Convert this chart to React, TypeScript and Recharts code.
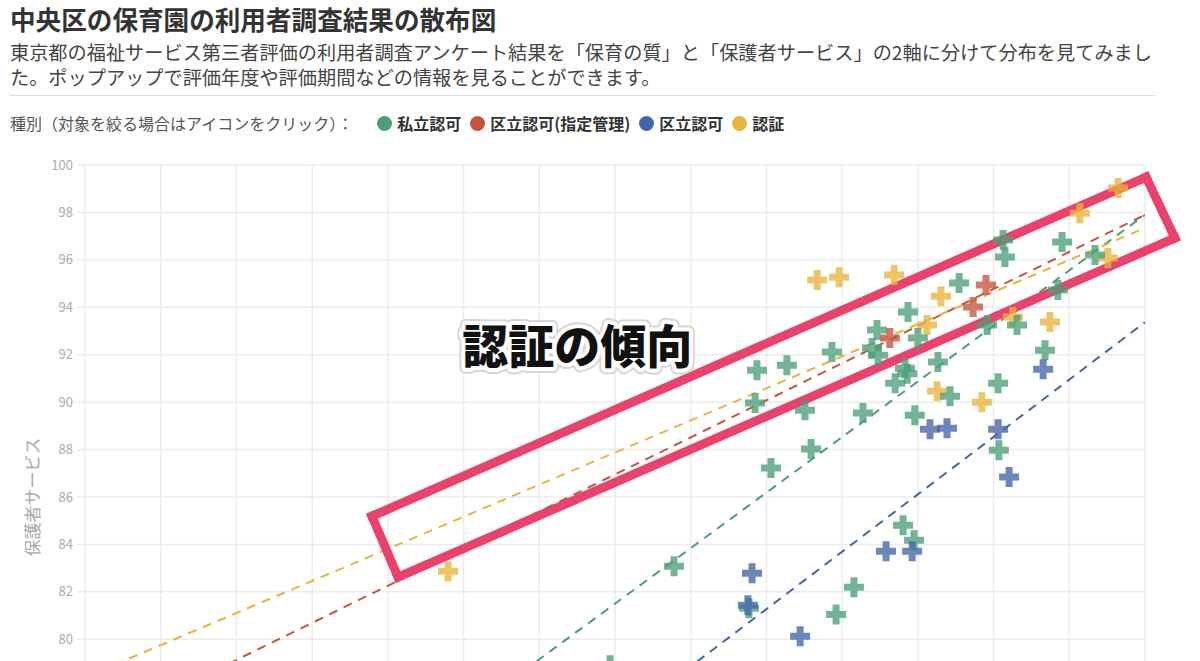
import React from 'react';
import {
  ScatterChart,
  Scatter,
  XAxis,
  YAxis,
  CartesianGrid,
  ReferenceLine,
  ReferenceDot,
} from 'recharts';

const FONT = '"Noto Sans CJK JP", "Noto Sans", sans-serif';

// 種別
const typeNames = ['私立認可', '区立認可(指定管理)', '区立認可', '認証'];
const typeColors = ['#4a9f77', '#c4553f', '#4465a9', '#e8b53c'];

// [保育の質, 保護者サービス]
const privatePoints: [number, number][] = [
  [96.25, 96.84], [96.3, 96.12], [97.81, 96.75], [98.68, 96.2], [97.7, 94.73],
  [95.09, 95.02], [93.74, 93.8], [92.92, 93.04], [94.0, 92.7], [92.79, 92.28],
  [92.95, 91.98], [91.73, 92.11], [93.66, 91.43], [93.72, 91.2], [94.53, 91.69],
  [93.4, 90.8], [94.85, 90.25], [96.12, 90.8], [92.55, 89.54], [93.92, 89.45],
  [96.62, 93.25], [95.83, 93.25], [97.36, 92.19], [89.75, 91.35], [90.54, 91.56],
  [89.7, 89.96], [91.02, 89.66], [91.18, 88.02], [90.12, 87.22], [96.14, 87.97],
  [93.61, 84.81], [93.9, 84.18], [92.31, 82.19], [91.84, 81.05], [89.54, 81.31],
  [87.56, 83.08], [85.87, 78.9],
];
const designatedPoints: [number, number][] = [
  [95.8, 94.94], [95.46, 94.01], [93.26, 92.7],
];
const wardPoints: [number, number][] = [
  [97.31, 91.39], [94.32, 88.86], [94.77, 88.9], [96.12, 88.86], [96.41, 86.84],
  [89.62, 82.78], [89.51, 81.43], [93.16, 83.71], [93.85, 83.71], [90.89, 80.13],
];
const certifiedPoints: [number, number][] = [
  [99.29, 99.03], [98.28, 97.97], [91.34, 95.15], [91.92, 95.27], [93.37, 95.36],
  [94.61, 94.47], [94.24, 93.25], [96.51, 93.59], [97.49, 93.38], [99.02, 96.08],
  [94.51, 90.46], [95.69, 90.0], [81.59, 82.87],
];

// 近似線 (始点, 終点)
const privateTrend: [number, number][] = [[72, 65.1], [100, 97.9]];
const designatedTrend: [number, number][] = [[72, 76.0], [100, 97.9]];
const wardTrend: [number, number][] = [[72, 59.5], [100, 93.37]];
const certifiedTrend: [number, number][] = [[72, 78.4], [100, 97.35]];

// 注釈の枠
const noteBox: [number, number][] = [[79.58, 85.19], [100.03, 99.49], [100.79, 96.92], [80.27, 82.62]];
const noteText = '認証の傾向';
const notePos: [number, number] = [85, 92.5];

const axisTicks = [72, 74, 76, 78, 80, 82, 84, 86, 88, 90, 92, 94, 96, 98, 100];

const toRows = (pts: [number, number][]) => pts.map(([x, y]) => ({ x, y }));

const seriesPoints = [privatePoints, designatedPoints, wardPoints, certifiedPoints];
const trends = [privateTrend, designatedTrend, wardTrend, certifiedTrend];
// 認証 underneath the others
const drawOrder = [3, 0, 1, 2];

const PlusMark = (props: any) => {
  const { cx, cy, fill } = props;
  if (cx == null || cy == null) return null;
  const a = 10;
  const b = 3.5;
  const d = `M${cx - b},${cy - a}H${cx + b}V${cy - b}H${cx + a}V${cy + b}H${cx + b}V${cy + a}H${cx - b}V${cy + b}H${cx - a}V${cy - b}H${cx - b}Z`;
  return <path d={d} fill={fill} fillOpacity={0.78} />;
};

const NoteLabel = (props: any) => {
  const { cx, cy } = props;
  const common = {
    x: cx,
    y: cy,
    textAnchor: 'middle' as const,
    dominantBaseline: 'central' as const,
    fontSize: 46,
    fontWeight: 900,
    fontFamily: FONT,
  };
  return (
    <g>
      <text {...common} fill="#000" stroke="#d6d6d6" strokeWidth={12} strokeLinejoin="round">{noteText}</text>
      <text {...common} fill="#000" stroke="#fff" strokeWidth={8} strokeLinejoin="round">{noteText}</text>
      <text {...common} fill="#111">{noteText}</text>
    </g>
  );
};

export default function App() {
  return (
    <div
      style={{
        position: 'absolute',
        left: 0,
        top: 0,
        width: 1200,
        height: 661,
        overflow: 'hidden',
        background: '#fff',
        fontFamily: FONT,
      }}
    >
      <div style={{ position: 'absolute', left: 10, top: 5, fontSize: 25.6, lineHeight: '28px', fontWeight: 700, color: '#333', whiteSpace: 'nowrap' }}>
        中央区の保育園の利用者調査結果の散布図
      </div>
      <div style={{ position: 'absolute', left: 10, top: 40, fontSize: 19.2, lineHeight: '25px', color: '#444', whiteSpace: 'nowrap' }}>
        <div>東京都の福祉サービス第三者評価の利用者調査アンケート結果を「保育の質」と「保護者サービス」の2軸に分けて分布を見てみまし</div>
        <div>た。ポップアップで評価年度や評価期間などの情報を見ることができます。</div>
      </div>
      <div style={{ position: 'absolute', left: 10, top: 95, width: 1145, height: 1, background: '#dddddd' }} />
      <div style={{ position: 'absolute', left: 10, top: 112, height: 22, display: 'flex', alignItems: 'center', fontSize: 16, whiteSpace: 'nowrap' }}>
        <span style={{ color: '#555', marginRight: 15 }}>種別（対象を絞る場合はアイコンをクリック）：</span>
        {typeNames.map((name, i) => (
          <span key={name} style={{ display: 'flex', alignItems: 'center', marginLeft: 9 }}>
            <span style={{ width: 15, height: 15, borderRadius: 8, background: typeColors[i], marginRight: 5 }} />
            <span style={{ fontWeight: 700, color: '#333' }}>{name}</span>
          </span>
        ))}
      </div>
      <div
        style={{
          position: 'absolute',
          left: 31,
          top: 497,
          transform: 'translate(-50%, -50%) rotate(-90deg)',
          fontSize: 17,
          color: '#aaa',
          whiteSpace: 'nowrap',
        }}
      >
        保護者サービス
      </div>
      <div style={{ position: 'absolute', left: 0, top: 0 }}>
        <ScatterChart width={1200} height={900} margin={{ top: 165, right: 55, bottom: 41, left: 25 }}>
          <CartesianGrid stroke="#ebebeb" strokeWidth={1.5} />
          <XAxis
            type="number"
            dataKey="x"
            domain={[72, 100]}
            ticks={axisTicks}
            allowDataOverflow
            height={30}
            axisLine={false}
            tickLine={false}
            tick={{ fill: '#aaa', fontSize: 13 }}
            label={{ value: '保育の質', position: 'insideBottom', offset: -20, fill: '#aaa', fontSize: 17 }}
          />
          <YAxis
            type="number"
            dataKey="y"
            domain={[72, 100]}
            ticks={axisTicks}
            allowDataOverflow
            width={60}
            axisLine={false}
            tickSize={8}
            tickMargin={4}
            tickLine={{ stroke: '#ebebeb', strokeWidth: 1.5 }}
            tick={{ fill: '#aaa', fontSize: 13 }}
          />
          {drawOrder.map((i) => (
            <Scatter
              key={typeNames[i]}
              name={typeNames[i]}
              data={toRows(seriesPoints[i])}
              fill={typeColors[i]}
              shape={PlusMark}
              isAnimationActive={false}
            />
          ))}
          {trends.map((t, i) => (
            <ReferenceLine
              key={`trend-${i}`}
              segment={toRows(t)}
              stroke={typeColors[i]}
              strokeWidth={2}
              strokeDasharray="9 7"
              ifOverflow="hidden"
            />
          ))}
          {noteBox.map((p, i) => (
            <ReferenceLine
              key={`box-${i}`}
              segment={toRows([p, noteBox[(i + 1) % noteBox.length]])}
              stroke="#e9436d"
              strokeWidth={9}
              strokeLinecap="square"
              ifOverflow="visible"
            />
          ))}
          <ReferenceDot x={notePos[0]} y={notePos[1]} r={0} ifOverflow="visible" shape={NoteLabel} />
        </ScatterChart>
      </div>
    </div>
  );
}
